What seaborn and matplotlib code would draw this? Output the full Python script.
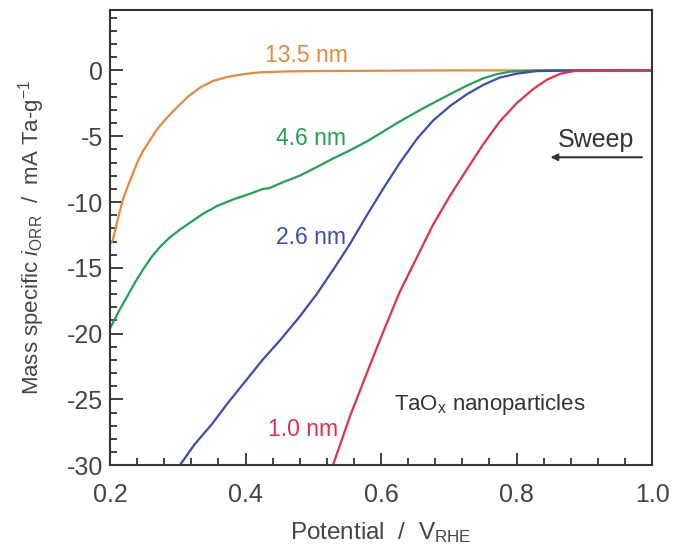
import numpy as np
import pandas as pd
import matplotlib.pyplot as plt
import seaborn as sns
from matplotlib.ticker import MultipleLocator

# ==========================
# Data
# ==========================
x_135 = [0.20, 0.204, 0.212, 0.219, 0.227, 0.234, 0.241, 0.249, 0.259, 0.269, 0.284,
         0.299, 0.315, 0.333, 0.352, 0.373, 0.395, 0.42, 0.46, 0.50, 0.70, 1.00]
y_135 = [-13.2, -12.9, -11.2, -9.8, -8.7, -7.8, -6.9, -6.1, -5.3, -4.5, -3.6,
         -2.8, -2.0, -1.3, -0.8, -0.5, -0.3, -0.15, -0.08, -0.05, 0.0, 0.0]

x_46 = [0.20, 0.204, 0.214, 0.225, 0.237, 0.249, 0.261, 0.274, 0.288, 0.303, 0.32, 0.337,
        0.358, 0.382, 0.405, 0.426, 0.435, 0.455, 0.48, 0.505, 0.529, 0.555,
        0.579, 0.603, 0.627, 0.665, 0.702, 0.727, 0.751, 0.77, 0.79, 0.82, 0.85, 1.00]
y_46 = [-19.6, -19.2, -18.2, -17.2, -16.1, -15.1, -14.2, -13.4, -12.7, -12.1, -11.5, -10.9,
        -10.3, -9.8, -9.4, -9.0, -8.95, -8.5, -8.0, -7.35, -6.7, -6.05,
        -5.4, -4.65, -3.9, -2.8, -1.8, -1.15, -0.6, -0.3, -0.1, -0.02, 0.0, 0.0]

x_26 = [0.303, 0.325, 0.35, 0.375, 0.40, 0.425, 0.451, 0.48, 0.505, 0.53, 0.554, 0.578,
        0.603, 0.628, 0.653, 0.677, 0.702, 0.727, 0.751, 0.775, 0.80, 0.83, 0.90, 1.00]
y_26 = [-30.0, -28.4, -26.9, -25.2, -23.6, -22.0, -20.5, -18.7, -17.0, -15.1, -13.2, -11.1,
        -9.0, -7.0, -5.2, -3.8, -2.7, -1.8, -1.1, -0.55, -0.25, -0.05, 0.0, 0.0]

x_10 = [0.529, 0.554, 0.579, 0.603, 0.627, 0.652, 0.676, 0.702, 0.727, 0.751, 0.775,
        0.80, 0.825, 0.845, 0.865, 0.885, 0.95, 1.00]
y_10 = [-30.0, -26.3, -23.0, -19.9, -16.9, -14.3, -11.8, -9.5, -7.5, -5.6, -3.9,
        -2.5, -1.4, -0.7, -0.25, -0.05, 0.0, 0.0]

sizes = ["13.5 nm", "4.6 nm", "2.6 nm", "1.0 nm"]
colors = ["#E8893A", "#1EA452", "#3B4DB0", "#E2304A"]
label_x = [0.49, 0.497, 0.497, 0.485]
label_y = [1.1, -5.2, -12.7, -27.3]

curves = [(x_135, y_135), (x_46, y_46), (x_26, y_26), (x_10, y_10)]
df = pd.concat(
    [pd.DataFrame({"Potential": xs, "Current": ys, "Size": s})
     for (xs, ys), s in zip(curves, sizes)],
    ignore_index=True
)

# ==========================
# Plot
# ==========================
sns.set_style("ticks")
plt.rcParams['font.family'] = ['Liberation Sans', 'DejaVu Sans']
plt.rcParams['mathtext.fontset'] = 'custom'
plt.rcParams['mathtext.rm'] = 'Liberation Sans'
plt.rcParams['mathtext.it'] = 'Liberation Sans:italic'

fig = plt.figure(figsize=(6.75, 5.48), dpi=100)
ax = fig.add_axes([0.163, 0.151, 0.803, 0.831])

sns.lineplot(
    data=df,
    x="Potential",
    y="Current",
    hue="Size",
    palette=dict(zip(sizes, colors)),
    sort=False,
    estimator=None,
    linewidth=1.6,
    legend=False,
    ax=ax
)

for s, c, lx, ly in zip(sizes, colors, label_x, label_y):
    ax.text(lx, ly, s, color=c, fontsize=16.5, ha="center", va="center")

ax.text(0.76, -25.4, "TaO$_\\mathrm{x}$ nanoparticles", color="#333333",
        fontsize=16, ha="center", va="center")
ax.text(0.917, -5.3, "Sweep", color="#333333", fontsize=18,
        ha="center", va="center")
ax.annotate("", xy=(0.85, -6.6), xytext=(0.985, -6.6),
            arrowprops=dict(arrowstyle="-|>", color="#333333", lw=1.5,
                            mutation_scale=10, shrinkA=0, shrinkB=0))

ax.set_xlim(0.2, 1.0)
ax.set_ylim(-30, 4.6)
ax.xaxis.set_major_locator(MultipleLocator(0.2))
ax.xaxis.set_minor_locator(MultipleLocator(0.04))
ax.yaxis.set_major_locator(MultipleLocator(5))
ax.yaxis.set_minor_locator(MultipleLocator(1))
ax.xaxis.set_major_formatter(plt.FuncFormatter(lambda v, p: f"{v:.1f}"))
ax.yaxis.set_major_formatter(plt.FuncFormatter(lambda v, p: f"{v:.0f}"))

ax.tick_params(which="both", direction="in", colors="#333333",
               labelcolor="#444444", labelsize=18, width=1.3)
ax.tick_params(which="major", length=9, pad=5)
ax.tick_params(which="minor", length=5)
ax.tick_params(axis="x", which="major", pad=13)
for sp in ax.spines.values():
    sp.set_color("#333333")
    sp.set_linewidth(1.5)

ax.set_xlabel("Potential  /  V$_{\\mathrm{RHE}}$", fontsize=17.5,
              color="#444444", labelpad=9)
ax.set_ylabel("Mass specific $i_{\\mathrm{ORR}}$  /  mA Ta-g$^{-1}$",
              fontsize=16, color="#444444", labelpad=14)

plt.savefig("out.png", dpi=100)
